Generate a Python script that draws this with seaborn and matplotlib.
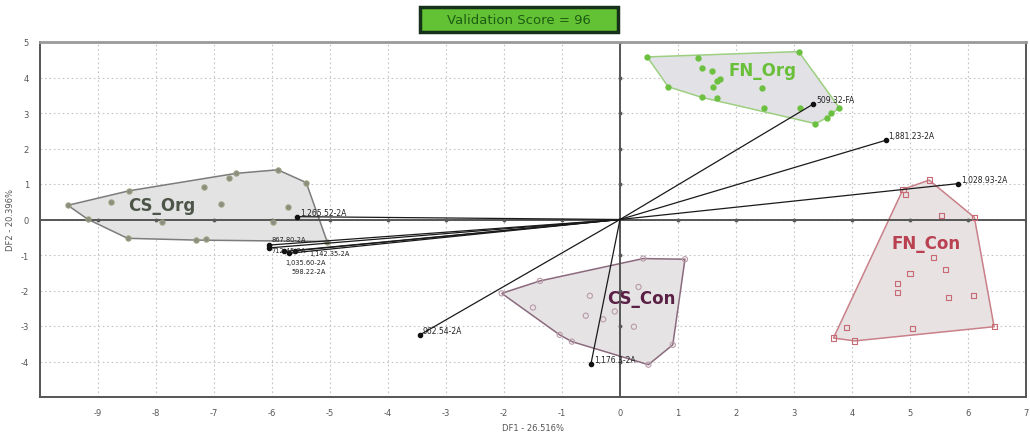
import matplotlib
matplotlib.use("Agg")
import matplotlib.pyplot as plt
from matplotlib.patches import Polygon, Rectangle
import numpy as np
import pandas as pd
import seaborn as sns

# group scores (DF1, DF2)
cs_org_x = [-9.52, -8.78, -8.46, -9.18, -8.49, -7.90, -7.31, -7.14, -7.18, -6.88, -6.74, -6.62, -5.90, -5.99, -5.73, -5.41, -5.05]
cs_org_y = [0.40, 0.50, 0.81, 0.01, -0.53, -0.07, -0.58, -0.54, 0.92, 0.43, 1.16, 1.30, 1.40, -0.08, 0.34, 1.04, -0.62]

fn_org_x = [0.47, 1.35, 3.08, 1.41, 1.58, 1.73, 1.67, 1.61, 0.83, 1.41, 1.67, 2.45, 2.48, 3.11, 3.37, 3.57, 3.63, 3.78]
fn_org_y = [4.58, 4.54, 4.73, 4.26, 4.19, 3.95, 3.91, 3.74, 3.74, 3.44, 3.41, 3.70, 3.13, 3.14, 2.70, 2.87, 2.99, 3.15]

cs_con_x = [-2.04, -1.38, 0.40, 1.12, -0.52, -1.50, 0.32, -0.09, -0.59, -0.29, 0.24, -1.04, -0.83, 0.91, 0.49]
cs_con_y = [-2.08, -1.73, -1.10, -1.12, -2.15, -2.48, -1.90, -2.59, -2.71, -2.81, -3.02, -3.25, -3.44, -3.53, -4.09]

fn_con_x = [5.33, 4.88, 4.92, 5.55, 6.11, 5.40, 5.61, 5.00, 4.79, 4.79, 5.67, 6.09, 6.45, 5.04, 3.90, 3.68, 4.05]
fn_con_y = [1.11, 0.85, 0.70, 0.12, 0.06, -1.07, -1.40, -1.52, -1.80, -2.06, -2.20, -2.15, -3.02, -3.06, -3.04, -3.34, -3.42]

# variable loadings (vectors from origin)
vec_names = ["509.32-FA", "1,881.23-2A", "1,028.93-2A", "1,265.52-2A", "867.80-2A",
             "712.45-2A", "1,142.35-2A", "1,035.60-2A", "598.22-2A", "962.54-2A", "1,176.3-2A"]
vec_x = [3.33, 4.58, 5.83, -5.57, -6.05, -6.05, -5.60, -5.80, -5.70, -3.45, -0.50]
vec_y = [3.25, 2.23, 1.01, 0.08, -0.72, -0.80, -0.88, -0.90, -0.95, -3.25, -4.06]

groups = ["CS_Org", "FN_Org", "CS_Con", "FN_Con"]
validation_score = 96

df = pd.concat([
    pd.DataFrame({"DF1": cs_org_x, "DF2": cs_org_y, "group": "CS_Org"}),
    pd.DataFrame({"DF1": fn_org_x, "DF2": fn_org_y, "group": "FN_Org"}),
    pd.DataFrame({"DF1": cs_con_x, "DF2": cs_con_y, "group": "CS_Con"}),
    pd.DataFrame({"DF1": fn_con_x, "DF2": fn_con_y, "group": "FN_Con"}),
], ignore_index=True)

styles = {
    "CS_Org": dict(pt="#8c8c84", edge="#9aa07a", line="#7c7c7c", fill="#e3e3e3", txt="#4d5548", marker="o", face=True),
    "FN_Org": dict(pt="#6cc040", edge="#6cc040", line="#9ccf80", fill="#e2e2e6", txt="#6abf3a", marker="o", face=True),
    "CS_Con": dict(pt="#b89aa8", edge="#b89aa8", line="#8a6a7c", fill="#e6e3e5", txt="#5a1f45", marker="o", face=False),
    "FN_Con": dict(pt="#c86a74", edge="#c86a74", line="#c98088", fill="#e8e2e3", txt="#b84050", marker="s", face=False),
}
label_pos = {"CS_Org": (-7.9, 0.4), "FN_Org": (2.45, 4.2), "CS_Con": (0.37, -2.22), "FN_Con": (5.28, -0.65)}

# label offsets in pixels, the bunched vectors get stacked labels
vec_offsets = {"867.80-2A": (2, 4), "712.45-2A": (2, -4), "1,142.35-2A": (14, -4),
               "1,035.60-2A": (2, -13), "598.22-2A": (2, -20)}


def hull(pts):
    pts = sorted(set(pts))
    def cross(o, a, b):
        return (a[0] - o[0]) * (b[1] - o[1]) - (a[1] - o[1]) * (b[0] - o[0])
    lower, upper = [], []
    for p in pts:
        while len(lower) >= 2 and cross(lower[-2], lower[-1], p) <= 0:
            lower.pop()
        lower.append(p)
    for p in reversed(pts):
        while len(upper) >= 2 and cross(upper[-2], upper[-1], p) <= 0:
            upper.pop()
        upper.append(p)
    return lower[:-1] + upper[:-1]


sns.set_theme(style="white")
plt.rcParams['font.family'] = ['DejaVu Sans']
plt.rcParams['axes.unicode_minus'] = False

fig = plt.figure(figsize=(10.3, 4.35), dpi=100)
ax = fig.add_axes([40 / 1030, 37 / 435, 986 / 1030, 355 / 435])

# grid
ax.set_xlim(-10, 7)
ax.set_ylim(-5, 5)
ax.set_xticks(range(-9, 8))
ax.set_yticks(range(-4, 6))
ax.grid(True, color="#c4c4c4", linestyle=(0, (1.5, 2.5)), linewidth=0.8)
ax.set_axisbelow(True)

# hulls
for g in groups:
    sub = df[df["group"] == g]
    st = styles[g]
    poly = Polygon(hull(list(zip(sub["DF1"], sub["DF2"]))), closed=True,
                   facecolor=st["fill"], edgecolor=st["line"], linewidth=1.1, zorder=1)
    ax.add_patch(poly)

# origin axes
ax.axhline(0, color="#4a4a4a", linewidth=1.3, zorder=2)
ax.axvline(0, color="#4a4a4a", linewidth=1.3, zorder=2)
xt = [t for t in range(-9, 8) if t != 0]
yt = [t for t in range(-4, 6) if t != 0]
ax.plot(xt, [0] * len(xt), linestyle="none", marker="o", markersize=1.8, color="#5a5a5a", zorder=2)
ax.plot([0] * len(yt), yt, linestyle="none", marker="o", markersize=1.8, color="#5a5a5a", zorder=2)

# points
for g in groups:
    sub = df[df["group"] == g]
    st = styles[g]
    sns.scatterplot(data=sub, x="DF1", y="DF2", ax=ax, marker=st["marker"], s=14,
                    facecolor=st["pt"] if st["face"] else "none",
                    edgecolor=st["edge"], linewidth=0.8, legend=False, zorder=3)
    lx, ly = label_pos[g]
    ax.text(lx, ly, g, color=st["txt"], fontsize=12, fontweight="bold",
            ha="center", va="center", zorder=5)

# loading vectors
for name, vx, vy in zip(vec_names, vec_x, vec_y):
    ax.plot([0, vx], [0, vy], color="#1a1a1a", linewidth=0.9, zorder=4)
    ax.plot(vx, vy, marker="o", markersize=3, color="#111111", zorder=4)
    off = vec_offsets.get(name, (3, 2))
    fs = 4.8 if name in vec_offsets else 5.5
    ax.annotate(name, (vx, vy), xytext=off, textcoords="offset pixels",
                fontsize=fs, color="#222222", zorder=5)

for s in ax.spines.values():
    s.set_color("#555555")
    s.set_linewidth(1.4)
ax.spines["top"].set_color("#9a9a9a")
ax.spines["top"].set_linewidth(2)

ax.tick_params(axis="both", length=0, labelsize=6, labelcolor="#555555", pad=8)
ax.set_xlabel("DF1 - 26.516%", fontsize=6, color="#555555", labelpad=4)
ax.set_ylabel("DF2 - 20.396%", fontsize=6, color="#555555", labelpad=4)

# validation score box
fig.patches.append(Rectangle((420 / 1030, 402 / 435), 198 / 1030, 25 / 435,
                             transform=fig.transFigure, facecolor="#62c234",
                             edgecolor="#17301a", linewidth=2.5))
fig.text(519 / 1030, 414.5 / 435, f"Validation Score = {validation_score}",
         fontsize=9.5, color="#1d5c14", ha="center", va="center")

fig.savefig("out.png", dpi=100)
